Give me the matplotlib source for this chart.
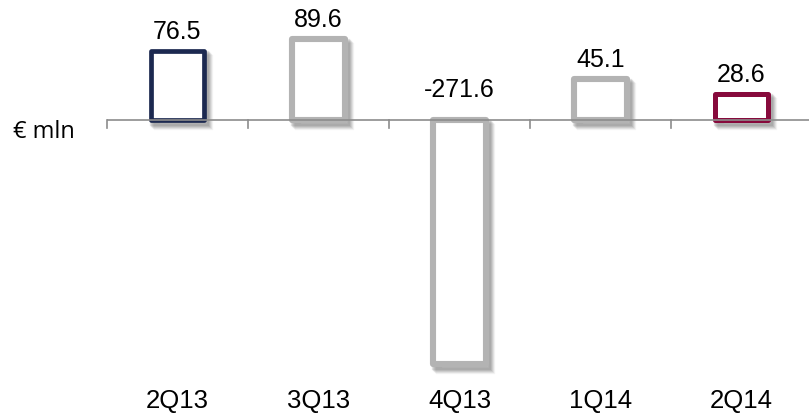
import matplotlib
matplotlib.use("Agg")
import matplotlib.pyplot as plt
import matplotlib.transforms as mtransforms

# Data
quarters = ["2Q13", "3Q13", "4Q13", "1Q14", "2Q14"]
values = [76.5, 89.6, -271.6, 45.1, 28.6]
edge_colors = ["#1c2950", "#b3b3b3", "#b3b3b3", "#b3b3b3", "#870a3c"]
edge_widths = [3.4, 4.4, 4.4, 4.4, 3.6]

plt.rcParams["font.family"] = ["Liberation Sans", "DejaVu Sans"]

fig = plt.figure(figsize=(8.09, 4.14), dpi=100)
# axes spans the full height so the zero line sits at a fixed pixel row
ax = fig.add_axes([107 / 809, 0, 705 / 809, 1])
px = 0.90  # pixels per unit
ax.set_ylim(-293 / px, 121 / px)
ax.set_xlim(-0.5, 4.5)
ax.axis("off")

bar_w = 0.38
xs = list(range(len(quarters)))

# soft shadow: a few offset, translucent copies of the bar outline
for dx, dy, a in [(6, -7, 0.07), (5, -6, 0.10), (4, -5, 0.13), (3, -4, 0.16), (2, -3, 0.16)]:
    off = mtransforms.offset_copy(ax.transData, fig=fig, x=dx, y=dy, units="dots")
    ax.bar(xs, values, width=bar_w, facecolor="none", edgecolor="#555555",
           linewidth=4.5, alpha=a, transform=off, zorder=1)

ax.bar(xs, values, width=bar_w, facecolor="white", edgecolor=edge_colors,
       linewidth=edge_widths, joinstyle="round", zorder=2)

# zero line and category separators
ax.axhline(0, color="#8c8c8c", linewidth=1.2, zorder=3)
for b in [i - 0.5 for i in range(len(quarters) + 1)]:
    ax.plot([b, b], [0, -8 / px], color="#8c8c8c", linewidth=1.2, zorder=3,
            clip_on=False)

# value labels (negative bar gets its label above the zero line)
for x, v in zip(xs, values):
    y = max(v, 0)
    gap = 6 if v >= 0 else 14
    ax.annotate(f"{v:.1f}", (x, y), xytext=(0, gap), textcoords="offset points",
                ha="center", va="bottom", fontsize=18, color="black", zorder=4)

# category labels
trans = mtransforms.blended_transform_factory(ax.transData, ax.transAxes)
for x, q in zip(xs, quarters):
    ax.text(x, 1 - 401 / 414, q, transform=trans, ha="center", va="center",
            fontsize=18.5, color="black")

fig.text(13 / 809, 1 - 132 / 414, "€ mln", ha="left", va="center",
         fontsize=17, family=["Open Sans", "DejaVu Sans"])

fig.savefig("out.png", dpi=100)
